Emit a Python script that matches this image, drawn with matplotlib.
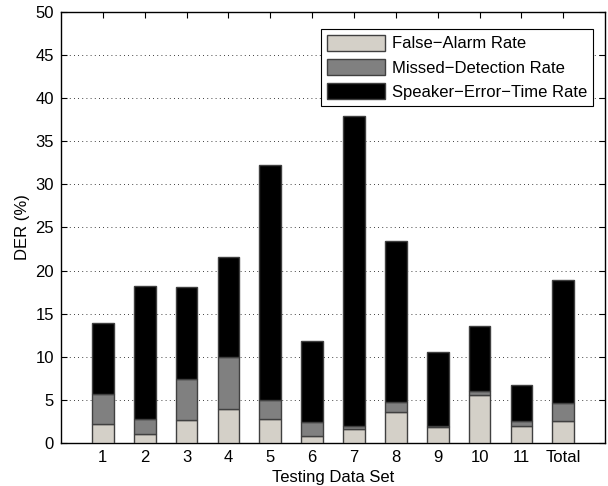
import numpy as np
import matplotlib
matplotlib.use("Agg")
import matplotlib.pyplot as plt

plt.rcParams['font.family'] = ['Liberation Sans', 'DejaVu Sans']

labels = ['1', '2', '3', '4', '5', '6', '7', '8', '9', '10', '11', 'Total']
totals = [13.9, 18.2, 18.1, 21.6, 32.2, 11.8, 37.9, 23.4, 10.5, 13.5, 6.7, 18.9]
false_alarm = [2.2, 1.0, 2.6, 3.9, 2.8, 0.8, 1.6, 3.6, 1.8, 5.6, 2.0, 2.5]
missed_top = [5.7, 2.7, 7.4, 10.0, 5.0, 2.4, 2.0, 4.7, 2.0, 6.0, 2.5, 4.6]

fa = np.array(false_alarm)
md = np.array(missed_top) - fa
se = np.array(totals) - np.array(missed_top)
x = np.arange(1, len(labels) + 1)

fig = plt.figure(figsize=(6.08, 4.86), dpi=100)
ax = fig.add_axes([0.1003, 0.089, 0.895, 0.886])

w = 0.52
ec = '#404040'
ax.bar(x, fa, w, color='#d4d0c8', edgecolor=ec, linewidth=1.0,
       label='False\u2212Alarm Rate', zorder=3)
ax.bar(x, md, w, bottom=fa, color='#808080', edgecolor=ec, linewidth=1.0,
       label='Missed\u2212Detection Rate', zorder=3)
ax.bar(x, se, w, bottom=fa + md, color='black', edgecolor=ec, linewidth=1.0,
       label='Speaker\u2212Error\u2212Time Rate', zorder=3)

fs = 12
ax.set_xlim(0, 13)
ax.set_ylim(0, 50)
ax.set_xticks(x)
ax.set_xticklabels(labels)
ax.set_yticks(np.arange(0, 51, 5))
ax.yaxis.grid(True, linestyle=(0, (1, 4)), color='black', linewidth=0.6)
ax.tick_params(direction='in', top=True, right=True, labelsize=fs, length=4, pad=5)
for s in ax.spines.values():
    s.set_linewidth(1.0)

ax.set_xlabel('Testing Data Set', fontsize=fs, labelpad=4)
ax.set_ylabel('DER (%)', fontsize=fs, labelpad=4)

leg = ax.legend(loc='upper right', bbox_to_anchor=(0.977, 0.961), fontsize=fs,
                fancybox=False, framealpha=1, edgecolor='black',
                handlelength=3.5, handleheight=1.1, borderpad=0.35,
                labelspacing=0.45, handletextpad=0.4, borderaxespad=0)
leg.get_frame().set_linewidth(0.8)

fig.savefig('out.png', dpi=100)
